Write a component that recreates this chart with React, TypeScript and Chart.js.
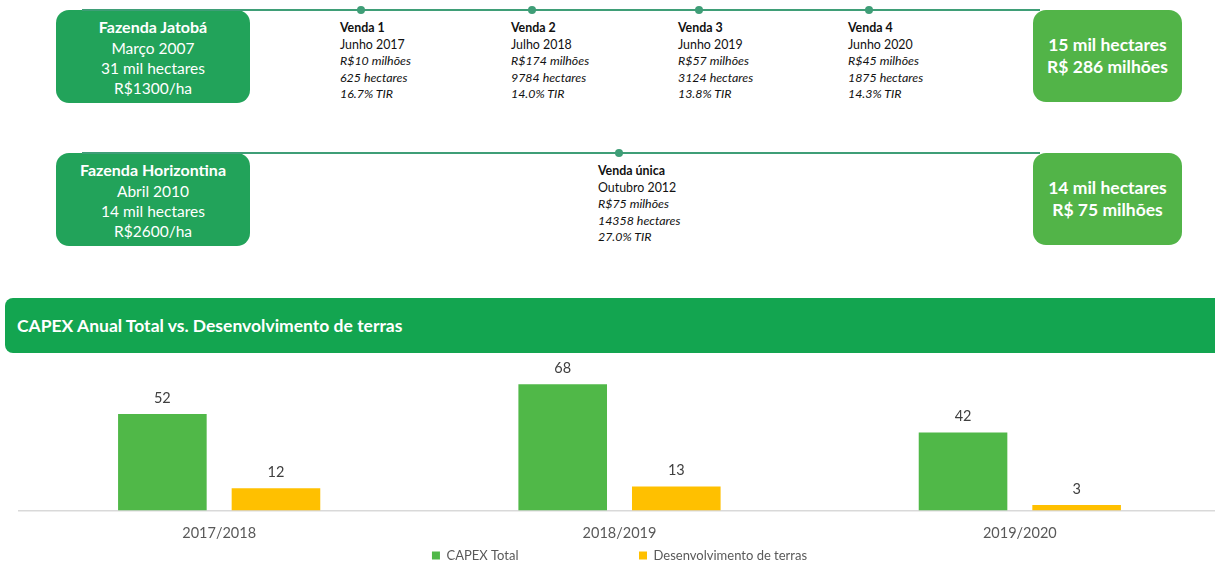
import React, { useEffect, useRef } from "react";
import { Chart, registerables } from "chart.js";

Chart.register(...registerables);

// ---------- DATA ----------
const categories = ["2017/2018", "2018/2019", "2019/2020"];
const capexTotal = [52, 68, 42];
const desenvolvimentoTerras = [12, 13, 3];
const seriesNames = ["CAPEX Total", "Desenvolvimento de terras"];
const chartTitle = "CAPEX Anual Total vs. Desenvolvimento de terras";

const jatobaInfo = ["Fazenda Jatobá", "Março 2007", "31 mil hectares", "R$1300/ha"];
const jatobaSales = [
  ["Venda 1", "Junho 2017", "R$10 milhões", "625 hectares", "16.7% TIR"],
  ["Venda 2", "Julho 2018", "R$174 milhões", "9784 hectares", "14.0% TIR"],
  ["Venda 3", "Junho 2019", "R$57 milhões", "3124 hectares", "13.8% TIR"],
  ["Venda 4", "Junho 2020", "R$45 milhões", "1875 hectares", "14.3% TIR"],
];
const jatobaTotal = ["15 mil hectares", "R$ 286 milhões"];

const horizontinaInfo = ["Fazenda Horizontina", "Abril 2010", "14 mil hectares", "R$2600/ha"];
const horizontinaSales = [
  ["Venda única", "Outubro 2012", "R$75 milhões", "14358 hectares", "27.0% TIR"],
];
const horizontinaTotal = ["14 mil hectares", "R$ 75 milhões"];

// ---------- LAYOUT / STYLE ----------
const FONT = "Lato, 'Open Sans', sans-serif";
const LINE_COLOR = "#3f9e77";
const BOX_DARK = "#22a35a";
const BOX_LIGHT = "#52b448";
const HEADER_COLOR = "#13a550";
const BAR_GREEN = "#50b848";
const BAR_YELLOW = "#ffc000";
const jatobaSaleLefts = [340, 511, 678, 848];
const horizontinaSaleLefts = [598];

type TimelineProps = {
  top: number;
  info: string[];
  sales: string[][];
  saleLefts: number[];
  total: string[];
};

function Timeline({ top, info, sales, saleLefts, total }: TimelineProps) {
  return (
    <>
      <div
        style={{
          position: "absolute",
          left: 56,
          top: top,
          width: 194,
          height: 93,
          borderRadius: 13,
          background: BOX_DARK,
          color: "#fff",
          display: "flex",
          flexDirection: "column",
          alignItems: "center",
          justifyContent: "center",
          fontSize: 15.5,
          lineHeight: "20.3px",
          paddingTop: 3,
          boxSizing: "border-box",
        }}
      >
        {info.map((t, i) => (
          <div key={i} style={{ fontWeight: i === 0 ? 700 : 400, fontSize: i === 0 ? 16 : 15.5 }}>
            {t}
          </div>
        ))}
      </div>
      <div
        style={{
          position: "absolute",
          left: 82,
          top: top - 1,
          width: 958,
          height: 2,
          background: LINE_COLOR,
        }}
      />
      {sales.map((s, i) => (
        <React.Fragment key={i}>
          <div
            style={{
              position: "absolute",
              left: saleLefts[i] + 21 - 4,
              top: top - 4,
              width: 8,
              height: 8,
              borderRadius: "50%",
              background: LINE_COLOR,
            }}
          />
          <div
            style={{
              position: "absolute",
              left: saleLefts[i],
              top: top + 10,
              fontSize: 12.4,
              lineHeight: "16.5px",
              color: "#111",
              whiteSpace: "nowrap",
            }}
          >
            {s.map((t, j) => (
              <div
                key={j}
                style={{
                  fontWeight: j === 0 ? 700 : 400,
                  fontStyle: j >= 2 ? "italic" : "normal",
                }}
              >
                {t}
              </div>
            ))}
          </div>
        </React.Fragment>
      ))}
      <div
        style={{
          position: "absolute",
          left: 1033,
          top: top,
          width: 149,
          height: 92,
          borderRadius: 13,
          background: BOX_LIGHT,
          color: "#fff",
          display: "flex",
          flexDirection: "column",
          alignItems: "center",
          justifyContent: "center",
          fontSize: 17.5,
          fontWeight: 700,
          lineHeight: "22px",
        }}
      >
        {total.map((t, i) => (
          <div key={i}>{t}</div>
        ))}
      </div>
    </>
  );
}

const valueLabels = {
  id: "valueLabels",
  afterDatasetsDraw(chart: any) {
    const ctx = chart.ctx;
    ctx.save();
    ctx.font = `14.5px ${FONT}`;
    ctx.fillStyle = "#404040";
    ctx.textAlign = "center";
    ctx.textBaseline = "middle";
    chart.data.datasets.forEach((ds: any, i: number) => {
      chart.getDatasetMeta(i).data.forEach((bar: any, j: number) => {
        ctx.fillText(String(ds.data[j]), bar.x, bar.y - 16);
      });
    });
    ctx.restore();
  },
};

function CapexChart() {
  const ref = useRef<HTMLCanvasElement | null>(null);
  useEffect(() => {
    if (!ref.current) return;
    const chart = new Chart(ref.current, {
      type: "bar",
      data: {
        labels: categories,
        datasets: [
          {
            label: seriesNames[0],
            data: capexTotal,
            backgroundColor: BAR_GREEN,
            categoryPercentage: 0.5675,
            barPercentage: 0.78,
          },
          {
            label: seriesNames[1],
            data: desenvolvimentoTerras,
            backgroundColor: BAR_YELLOW,
            categoryPercentage: 0.5675,
            barPercentage: 0.78,
          },
        ],
      },
      options: {
        animation: false,
        responsive: false,
        layout: { padding: { left: 14, top: 5, right: 0, bottom: 0 } },
        scales: {
          x: {
            grid: { display: false, drawTicks: false },
            border: { color: "#d9d9d9", width: 1.5 },
            ticks: {
              color: "#595959",
              font: { size: 14.5, family: FONT },
              padding: 14,
            },
            afterFit: (s: any) => {
              s.height -= 11;
            },
          },
          y: { display: false, min: 0, max: 81 },
        },
        plugins: {
          tooltip: { enabled: false },
          legend: {
            position: "bottom",
            labels: {
              boxWidth: 8,
              boxHeight: 8,
              padding: 4,
              color: "#595959",
              font: { size: 13, family: FONT },
              generateLabels: (c: any) => {
                const items = Chart.defaults.plugins.legend.labels.generateLabels(c);
                const ctx = c.ctx;
                ctx.save();
                ctx.font = `13px ${FONT}`;
                const base = ctx.measureText(items[0].text).width;
                let t = items[0].text;
                while (ctx.measureText(t).width - base < 115) t += "\u00a0";
                ctx.restore();
                items[0].text = t;
                return items;
              },
            },
          },
        },
      },
      plugins: [valueLabels],
    } as any);
    return () => chart.destroy();
  }, []);
  return (
    <canvas
      ref={ref}
      width={1215}
      height={217}
      style={{ position: "absolute", left: 5, top: 355, width: 1215, height: 217 }}
    />
  );
}

export default function App() {
  useEffect(() => {
    document.body.style.margin = "0";
  }, []);
  return (
    <div
      style={{
        position: "relative",
        width: 1215,
        height: 565,
        overflow: "hidden",
        background: "#fff",
        fontFamily: FONT,
      }}
    >
      <Timeline
        top={10}
        info={jatobaInfo}
        sales={jatobaSales}
        saleLefts={jatobaSaleLefts}
        total={jatobaTotal}
      />
      <Timeline
        top={153}
        info={horizontinaInfo}
        sales={horizontinaSales}
        saleLefts={horizontinaSaleLefts}
        total={horizontinaTotal}
      />
      <div
        style={{
          position: "absolute",
          left: 5,
          top: 298,
          width: 1230,
          height: 55,
          borderRadius: 8,
          background: HEADER_COLOR,
          color: "#fff",
          fontWeight: 700,
          fontSize: 17.5,
          display: "flex",
          alignItems: "center",
          paddingLeft: 12,
          boxSizing: "border-box",
        }}
      >
        {chartTitle}
      </div>
      <CapexChart />
    </div>
  );
}
